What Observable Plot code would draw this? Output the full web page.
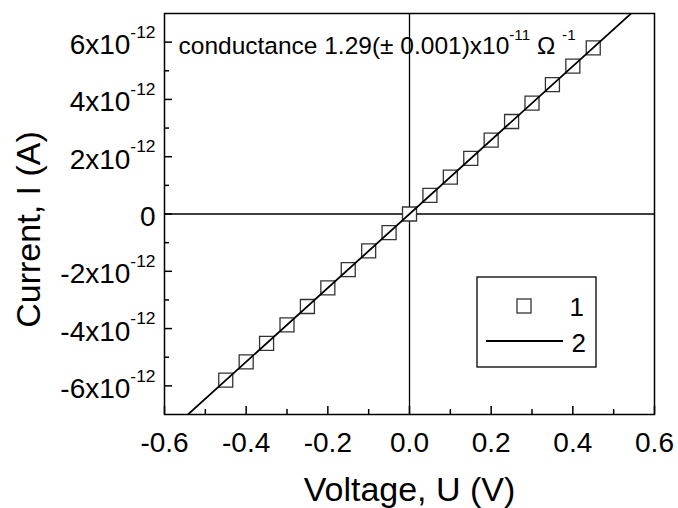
<!DOCTYPE html>
<html><head><meta charset="utf-8">
<script src="https://cdn.jsdelivr.net/npm/d3@7"></script>
<script src="https://cdn.jsdelivr.net/npm/@observablehq/plot@0.6"></script>
<style>
body{margin:0;background:#fff;}
#wrap{position:relative;width:678px;height:508px;font-family:"Liberation Sans",Arial,sans-serif;}
#legend{position:absolute;left:476px;top:276px;}
</style></head><body><div id="wrap"></div>
<script>
// Measured I-V data (series 1)
const voltage = [-0.45,-0.40,-0.35,-0.30,-0.25,-0.20,-0.15,-0.10,-0.05,0.00,0.05,0.10,0.15,0.20,0.25,0.30,0.35,0.40,0.45];
const current = [-5.80e-12,-5.16e-12,-4.52e-12,-3.87e-12,-3.23e-12,-2.58e-12,-1.94e-12,-1.29e-12,-0.65e-12,0,0.65e-12,1.29e-12,1.94e-12,2.58e-12,3.23e-12,3.87e-12,4.52e-12,5.16e-12,5.80e-12];
// Linear fit (series 2), end points
const fitVoltage = [-0.55, 0.55];
const fitCurrent = [-7.095e-12, 7.095e-12];
// Axes
const xTicks = [-0.6,-0.4,-0.2,0,0.2,0.4,0.6];
const xTickLabels = ["-0.6","-0.4","-0.2","0.0","0.2","0.4","0.6"];
const xMinorTicks = [-0.5,-0.3,-0.1,0.1,0.3,0.5];
const yTicks = [-6e-12,-4e-12,-2e-12,0,2e-12,4e-12,6e-12];
const yTickLabels = ["-6x10^{-12}","-4x10^{-12}","-2x10^{-12}","0","2x10^{-12}","4x10^{-12}","6x10^{-12}"];
const yMinorTicks = [-5e-12,-3e-12,-1e-12,1e-12,3e-12,5e-12];
const xTitle = "Voltage, U (V)";
const yTitle = "Current, I (A)";
const annotation = "conductance 1.29(\u00B1 0.001)x10^{-11} \u03A9 ^{-1}";
const legendLabels = ["1","2"];

const points = voltage.map((v, i) => ({v, i: current[i]}));
const fit = fitVoltage.map((v, i) => ({v, i: fitCurrent[i]}));
const lookup = (ticks, labels) => d => labels[ticks.findIndex(t => Math.abs(t - d) < 1e-15 + Math.abs(t) * 1e-9)];

const chart = Plot.plot({
  width: 678, height: 508,
  marginLeft: 164, marginRight: 24, marginTop: 13, marginBottom: 94,
  x: {domain: [-0.6, 0.6]},
  y: {domain: [-7e-12, 7e-12]},
  style: {fontFamily: '"Liberation Sans", Arial, sans-serif', background: "white", color: "black"},
  marks: [
    Plot.ruleX([0], {stroke: "black", strokeWidth: 1.3}),
    Plot.ruleY([0], {stroke: "black", strokeWidth: 1.3}),
    Plot.dot(points, {x: "v", y: "i", symbol: "square", r: 7.9, fill: "white", stroke: "#333", strokeWidth: 1.3}),
    Plot.line(fit, {x: "v", y: "i", stroke: "black", strokeWidth: 1.8, clip: true}),
    Plot.frame({stroke: "black", strokeWidth: 1.5}),
    Plot.axisX({ticks: xTicks, tickSize: -8, text: null, label: null, strokeWidth: 1.5}),
    Plot.axisX({ticks: xMinorTicks, tickSize: -5, text: null, label: null, strokeWidth: 1.5}),
    Plot.axisX({ticks: xTicks, tickSize: 0, tickPadding: 18, tickFormat: lookup(xTicks, xTickLabels), fontSize: 28, label: null}),
    Plot.axisY({ticks: yTicks, tickSize: -8, text: null, label: null, strokeWidth: 1.5}),
    Plot.axisY({ticks: yMinorTicks, tickSize: -5, text: null, label: null, strokeWidth: 1.5}),
    Plot.axisY({ticks: yTicks, tickSize: 0, tickPadding: 9, dy: 3, tickFormat: lookup(yTicks, yTickLabels), fontSize: 28, label: null}),
    Plot.text([annotation], {frameAnchor: "top-left", textAnchor: "start", lineAnchor: "middle", dx: 14, dy: 33, fontSize: 24.5}),
    Plot.text([xTitle], {frameAnchor: "bottom", textAnchor: "middle", lineAnchor: "middle", dy: 76, fontSize: 34}),
    Plot.text([yTitle], {frameAnchor: "left", textAnchor: "middle", rotate: -90, lineAnchor: "middle", dx: -135, dy: 15.5, fontSize: 34})
  ]
});
const wrap = document.getElementById("wrap");
wrap.appendChild(chart);

// superscripts: "^{...}"
const NS = "http://www.w3.org/2000/svg";
chart.querySelectorAll("text").forEach(t => {
  const nodes = t.querySelectorAll("tspan").length ? [...t.querySelectorAll("tspan")] : [t];
  for (const n of nodes) {
    const s = n.textContent;
    if (!s.includes("^{")) continue;
    const fs = parseFloat(getComputedStyle(n).fontSize);
    const supSize = (fs * 0.62).toFixed(1), shift = (fs * 0.58).toFixed(1);
    n.textContent = "";
    const parts = s.split(/\^\{([^}]*)\}/);
    let raised = false;
    parts.forEach((p, k) => {
      const ts = document.createElementNS(NS, "tspan");
      ts.textContent = p;
      if (k % 2 === 1) { ts.setAttribute("font-size", supSize); ts.setAttribute("dy", -shift); raised = true; }
      else if (raised) { ts.setAttribute("dy", shift); raised = false; }
      n.appendChild(ts);
    });
  }
});

// legend box
const lg = d3.select(wrap).append("svg").attr("id", "legend").attr("width", 122).attr("height", 93)
  .style("font-family", '"Liberation Sans", Arial, sans-serif');
lg.append("rect").attr("x", 1).attr("y", 1).attr("width", 119).attr("height", 90).attr("fill", "white").attr("stroke", "black").attr("stroke-width", 1.3);
lg.append("rect").attr("x", 41).attr("y", 23).attr("width", 14).attr("height", 14).attr("fill", "white").attr("stroke", "#333").attr("stroke-width", 1.3);
lg.append("line").attr("x1", 10).attr("x2", 87).attr("y1", 65).attr("y2", 65).attr("stroke", "black").attr("stroke-width", 1.8);
lg.append("text").attr("x", 108).attr("y", 40).attr("text-anchor", "end").attr("font-size", 26).text(legendLabels[0]);
lg.append("text").attr("x", 110).attr("y", 76).attr("text-anchor", "end").attr("font-size", 26).text(legendLabels[1]);
</script>
</body></html>
